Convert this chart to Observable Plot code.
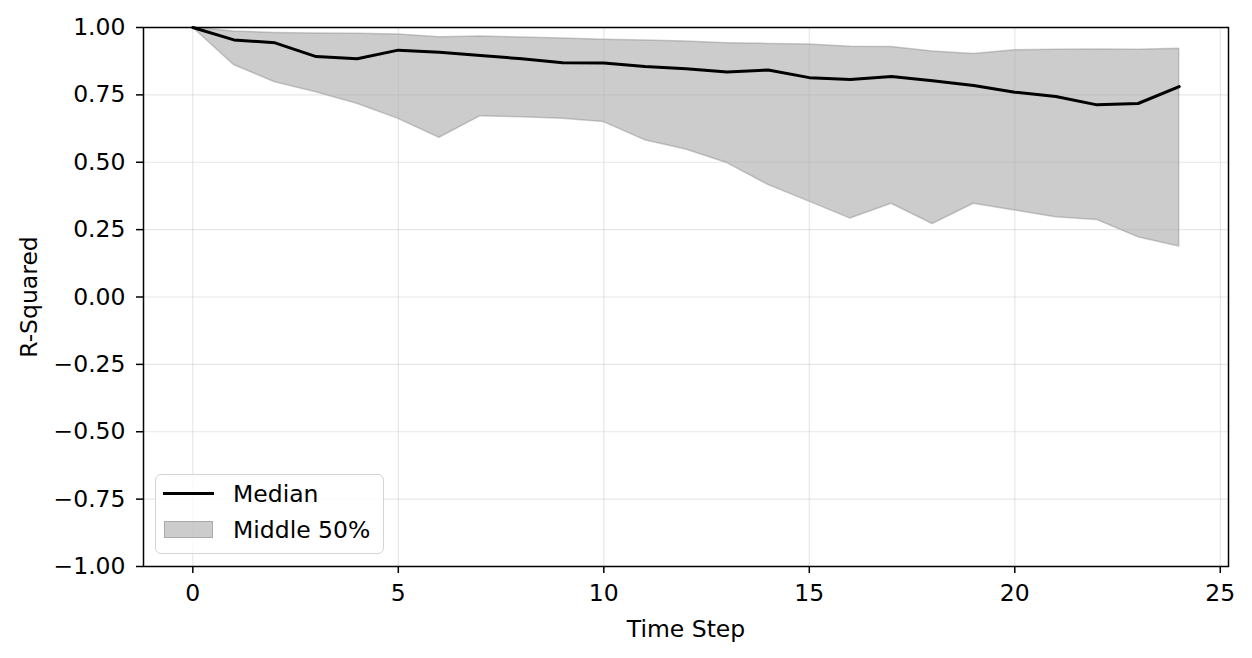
<!DOCTYPE html>
<html><head><meta charset="utf-8">
<script src="https://cdn.jsdelivr.net/npm/d3@7"></script>
<script src="https://cdn.jsdelivr.net/npm/@observablehq/plot@0.6"></script>
<style>
body{margin:0;background:#fff;font-family:"DejaVu Sans",sans-serif;}
#wrap{position:relative;width:1252px;height:658px;overflow:hidden;}
.legend{position:absolute;left:155px;top:474px;width:229px;height:80px;border:1.5px solid #d4d4d4;border-radius:6px;background:rgba(255,255,255,0.8);box-sizing:border-box;}
.lg-line{position:absolute;left:7px;top:17px;width:51px;height:0;border-top:3px solid #000;}
.lg-patch{position:absolute;left:8px;top:46px;width:49px;height:17px;background:rgba(128,128,128,0.4);border:1.5px solid rgba(128,128,128,0.45);box-sizing:border-box;}
.lg-text{position:absolute;left:77px;font-size:23.5px;line-height:1;color:#000;white-space:nowrap;}
</style>
</head><body>
<div id="wrap"></div>
<script>
const steps = [0,1,2,3,4,5,6,7,8,9,10,11,12,13,14,15,16,17,18,19,20,21,22,23,24];
const median = [1.0,0.954,0.943,0.892,0.884,0.916,0.908,0.896,0.884,0.869,0.868,0.855,0.847,0.835,0.842,0.814,0.807,0.818,0.802,0.785,0.760,0.744,0.713,0.718,0.781];
const upper = [1.0,0.985,0.980,0.978,0.977,0.974,0.964,0.967,0.963,0.959,0.955,0.952,0.948,0.942,0.939,0.937,0.929,0.928,0.911,0.902,0.916,0.917,0.918,0.917,0.921];
const lower = [1.0,0.861,0.797,0.760,0.717,0.661,0.591,0.671,0.667,0.661,0.649,0.582,0.547,0.497,0.416,0.354,0.291,0.346,0.271,0.346,0.321,0.296,0.286,0.222,0.187];
const xTicks = [0,5,10,15,20,25];
const yTicks = [-1,-0.75,-0.5,-0.25,0,0.25,0.5,0.75,1];
const legendLabels = ["Median","Middle 50%"];

const rows = steps.map((t,i)=>({t, med: median[i], hi: upper[i], lo: lower[i]}));

const chart = Plot.plot({
  width: 1252, height: 658,
  marginLeft: 143, marginRight: 24, marginTop: 27, marginBottom: 92,
  x: {domain: [-1.2, 25.2]},
  y: {domain: [-1, 1]},
  style: {fontFamily: "DejaVu Sans", fontSize: "23.5px", color: "black", background: "white"},
  marks: [
    Plot.areaY(rows, {x: "t", y1: "lo", y2: "hi", fill: "gray", fillOpacity: 0.4, stroke: "gray", strokeOpacity: 0.4, strokeWidth: 1.5}),
    Plot.gridX({ticks: xTicks, stroke: "#b0b0b0", strokeOpacity: 0.3, strokeWidth: 1.2}),
    Plot.gridY({ticks: yTicks, stroke: "#b0b0b0", strokeOpacity: 0.3, strokeWidth: 1.2}),
    Plot.lineY(rows, {x: "t", y: "med", stroke: "black", strokeWidth: 3}),
    Plot.frame({stroke: "black", strokeWidth: 1.5}),
    Plot.axisX({ticks: xTicks, tickSize: 7, tickPadding: 11, strokeWidth: 1.5, fontSize: 23.5,
      label: "Time Step", labelAnchor: "center", labelArrow: "none", labelOffset: 70}),
    Plot.axisY({ticks: yTicks, tickFormat: d3.format(".2f"), tickSize: 7, tickPadding: 11, strokeWidth: 1.5, fontSize: 23.5,
      label: "R-Squared", labelAnchor: "center", labelArrow: "none", labelOffset: 123})
  ]
});
const wrap = document.getElementById("wrap");
wrap.appendChild(chart);

const lg = document.createElement("div");
lg.className = "legend";
lg.innerHTML = `<div class="lg-line"></div><div class="lg-text" style="top:8px">${legendLabels[0]}</div>
<div class="lg-patch"></div><div class="lg-text" style="top:44px">${legendLabels[1]}</div>`;
wrap.appendChild(lg);
</script>
</body></html>
